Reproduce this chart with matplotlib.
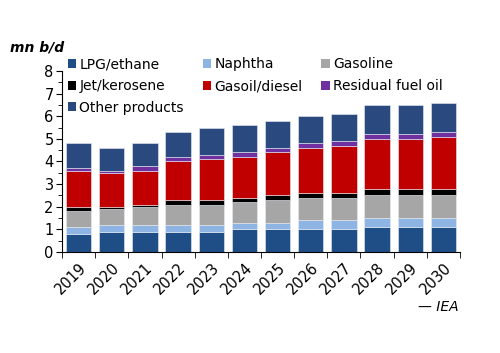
import numpy as np
import matplotlib
matplotlib.use('Agg')
import matplotlib.pyplot as plt
from matplotlib.patches import Patch
from matplotlib.ticker import MultipleLocator

years = ['2019', '2020', '2021', '2022', '2023', '2024',
         '2025', '2026', '2027', '2028', '2029', '2030']

# mn b/d by product
lpg      = [0.8, 0.9, 0.9, 0.9, 0.9, 1.0, 1.0, 1.0, 1.0, 1.1, 1.1, 1.1]
naphtha  = [0.3, 0.3, 0.3, 0.3, 0.3, 0.3, 0.3, 0.4, 0.4, 0.4, 0.4, 0.4]
gasoline = [0.7, 0.7, 0.8, 0.9, 0.9, 0.9, 1.0, 1.0, 1.0, 1.0, 1.0, 1.0]
jet      = [0.2, 0.1, 0.1, 0.2, 0.2, 0.2, 0.2, 0.2, 0.2, 0.3, 0.3, 0.3]
gasoil   = [1.6, 1.5, 1.5, 1.7, 1.8, 1.8, 1.9, 2.0, 2.1, 2.2, 2.2, 2.3]
residual = [0.1, 0.1, 0.2, 0.2, 0.2, 0.2, 0.2, 0.2, 0.2, 0.2, 0.2, 0.2]
other    = [1.1, 1.0, 1.0, 1.1, 1.2, 1.2, 1.2, 1.2, 1.2, 1.3, 1.3, 1.3]

series = [
    ('LPG/ethane', lpg, '#1F4E87'),
    ('Naphtha', naphtha, '#8DB4E2'),
    ('Gasoline', gasoline, '#A6A6A6'),
    ('Jet/kerosene', jet, '#000000'),
    ('Gasoil/diesel', gasoil, '#C00000'),
    ('Residual fuel oil', residual, '#7030A0'),
    ('Other products', other, '#2A4A7F'),
]

plt.rcParams['font.family'] = ['DejaVu Sans']

fig = plt.figure(figsize=(5.0, 3.53), dpi=100)
ax = fig.add_axes([0.124, 0.286, 0.796, 0.513])

x = np.arange(len(years))
bottom = np.zeros(len(years))
handles = {}
for name, vals, col in series:
    ax.bar(x, vals, 0.76, bottom=bottom, color=col, edgecolor='#e8edf4', linewidth=0.4)
    bottom += np.array(vals)
    handles[name] = Patch(facecolor=col, edgecolor='none')

ax.set_ylim(0, 8)
ax.set_xlim(-0.5, len(years) - 0.5)
ax.yaxis.set_major_locator(MultipleLocator(1))
ax.yaxis.set_minor_locator(MultipleLocator(0.5))
ax.tick_params(axis='y', which='major', length=4, labelsize=10.5, pad=2)
ax.tick_params(axis='y', which='minor', length=3)

ax.set_xticks(x)
ax.set_xticklabels(years, rotation=45, ha='right', rotation_mode='anchor', fontsize=10.5)
ax.set_xticks(np.arange(-0.5, len(years)), minor=True)
ax.tick_params(axis='x', which='major', length=0, pad=6)
ax.tick_params(axis='x', which='minor', length=4)

for s in ['top', 'right']:
    ax.spines[s].set_visible(False)

order = ['LPG/ethane', 'Jet/kerosene', 'Other products',
         'Naphtha', 'Gasoil/diesel', 'Gasoline', 'Residual fuel oil']
ax.legend([handles[k] for k in order], order, ncol=3, loc='upper left',
          bbox_to_anchor=(0.0, 1.105), frameon=False, fontsize=10,
          handlelength=0.6, handleheight=0.6, handletextpad=0.25,
          columnspacing=1.35, labelspacing=0.55, borderaxespad=0)

fig.text(0.02, 0.855, 'mn b/d', fontsize=10, fontstyle='italic', fontweight='bold')
fig.text(0.918, 0.118, '\u2014 IEA', fontsize=10, fontstyle='italic', ha='right')

fig.savefig('out.png', dpi=100)
